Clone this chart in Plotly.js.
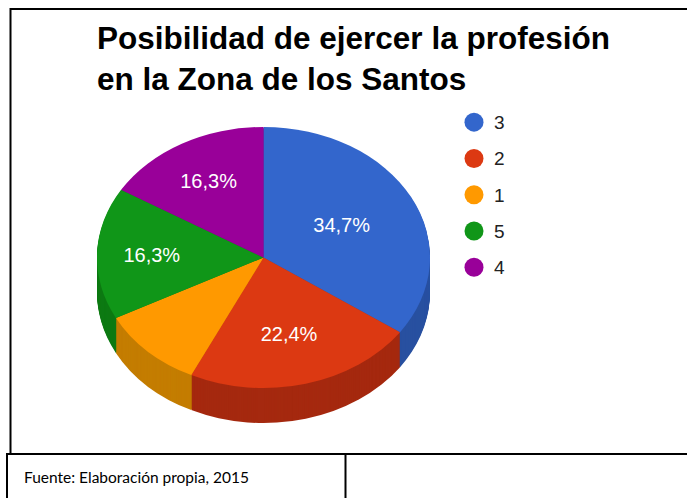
<!DOCTYPE html>
<html>
<head>
<meta charset="utf-8">
<script src="https://cdn.plot.ly/plotly-3.0.1.min.js"></script>
<style>
  html, body { margin: 0; padding: 0; background: #fff; }
  #chart { width: 687px; height: 498px; }
</style>
</head>
<body>
<div id="chart"></div>
<script>
// ---- data ----
const categories = ['3', '2', '1', '5', '4'];
const counts = [17, 11, 5, 8, 8];
const topColors = ['#3366cc', '#dc3912', '#ff9900', '#109618', '#990099'];
const sideColors = ['#2850a0', '#a5290f', '#c47d00', '#0d7a13', '#730073'];
const sliceLabels = ['%{percent:.1%}', '%{percent:.1%}', '', '%{percent:.1%}', '%{percent:.1%}'];
const chartTitle = 'Posibilidad de ejercer la profesión<br>en la Zona de los Santos';
const sourceText = 'Fuente: Elaboración propia, 2015';

// ---- geometry of the (flattened) pie ----
const W = 687, H = 498;
const CX = 263.5, CY = 257.5, R = 166.5;
const SQUISH = 0.784, DEPTH = 35;

const dom = {
  x: [(CX - R) / W, (CX + R) / W],
  y: [(H - CY - R) / H, (H - CY + R) / H]
};

const sideTrace = {
  type: 'pie', labels: categories, values: counts, sort: false,
  direction: 'clockwise', rotation: 0, domain: dom,
  marker: { colors: sideColors, line: { width: 0 } },
  textinfo: 'none', showlegend: false, hoverinfo: 'none'
};
const topTrace = {
  type: 'pie', labels: categories, values: counts, sort: false,
  direction: 'clockwise', rotation: 0, domain: dom,
  marker: { colors: topColors, line: { width: 0 } },
  texttemplate: sliceLabels, textposition: 'inside',
  insidetextorientation: 'horizontal',
  insidetextfont: { family: 'Liberation Sans, Arial, sans-serif', size: 20, color: '#ffffff' },
  hoverinfo: 'none'
};

const layout = {
  width: W, height: H,
  margin: { l: 0, r: 0, t: 0, b: 0 },
  paper_bgcolor: '#ffffff',
  separators: ',.',
  title: {
    text: chartTitle,
    x: 97 / W, xanchor: 'left', xref: 'container',
    y: 1 - 49 / H, yanchor: 'top', yref: 'container',
    font: { family: 'Liberation Sans, Arial, sans-serif', size: 31.5, color: '#000000', weight: 'bold' }
  },
  showlegend: true,
  legend: {
    x: (474 - 20) / W, xanchor: 'left',
    y: 1 - 99 / H, yanchor: 'top',
    bgcolor: 'rgba(0,0,0,0)',
    font: { family: 'Liberation Sans, Arial, sans-serif', size: 25.6, color: '#222222' },
    traceorder: 'normal'
  },
  shapes: [
    { type: 'rect', xref: 'paper', yref: 'paper',
      x0: 10.5 / W, x1: 1.05, y0: (H - 454) / H, y1: (H - 9) / H,
      line: { color: '#000000', width: 2 }, fillcolor: 'rgba(0,0,0,0)', layer: 'below' },
    { type: 'rect', xref: 'paper', yref: 'paper',
      x0: 7 / W, x1: 345.5 / W, y0: -0.05, y1: (H - 454) / H,
      line: { color: '#000000', width: 2 }, fillcolor: '#ffffff', layer: 'below' }
  ],
  annotations: [
    { text: sourceText, xref: 'paper', yref: 'paper',
      x: 22 / W, xanchor: 'left', y: (H - 477) / H, yanchor: 'middle',
      showarrow: false,
      font: { family: 'Lato, Carlito, Calibri, sans-serif', size: 15.5, color: '#000000' } }
  ]
};

Plotly.newPlot('chart', [sideTrace, topTrace], layout, { staticPlot: true }).then(gd => {
  const groups = gd.querySelectorAll('.pielayer g.trace');
  const side = groups[0], top = groups[1];
  const NS = 'http://www.w3.org/2000/svg';

  function localCenterY(g) {
    let y0 = Infinity, y1 = -Infinity;
    g.querySelectorAll('path.surface').forEach(p => {
      const b = p.getBBox();
      y0 = Math.min(y0, b.y); y1 = Math.max(y1, b.y + b.height);
    });
    return (y0 + y1) / 2;
  }
  function screenCenterY(g) {
    let y0 = Infinity, y1 = -Infinity;
    g.querySelectorAll('path.surface').forEach(p => {
      const b = p.getBoundingClientRect();
      y0 = Math.min(y0, b.top); y1 = Math.max(y1, b.bottom);
    });
    return (y0 + y1) / 2;
  }
  const tf = (cy, off) => `translate(0,${cy * (1 - SQUISH) + off}) scale(1,${SQUISH})`;

  // side walls: stacked flattened copies of the darker pie
  const cyS = localCenterY(side);
  const sidePaths = Array.from(side.querySelectorAll('path.surface'));
  const stack = document.createElementNS(NS, 'g');
  for (let off = DEPTH; off >= 1; off -= 1) {
    sidePaths.forEach(p => {
      const c = p.cloneNode(true);
      c.setAttribute('transform', tf(cyS, off));
      stack.appendChild(c);
    });
  }
  sidePaths.forEach(p => { p.style.display = 'none'; });
  side.insertBefore(stack, side.firstChild);

  // top face
  const scy = screenCenterY(top);
  const cyT = localCenterY(top);
  top.querySelectorAll('g.slicetext').forEach(t => {
    const b = t.getBoundingClientRect();
    if (!b.height) return;
    const ty = (b.top + b.bottom) / 2;
    const d = (ty - scy) * (SQUISH - 1);
    const prev = t.getAttribute('transform') || '';
    t.setAttribute('transform', `translate(0,${d}) ${prev}`);
  });
  top.querySelectorAll('path.surface').forEach(p => p.setAttribute('transform', tf(cyT, 0)));

  // legend: round markers, smaller text
  gd.querySelectorAll('.legend .legendpoints path').forEach(p => {
    p.setAttribute('d', 'M9.5,0A9.5,9.5 0 1,1 0,-9.5A9.5,9.5 0 0,1 9.5,0Z');
    p.style.strokeWidth = '0';
  });
  gd.querySelectorAll('.legend text.legendtext').forEach(t => {
    t.style.fontSize = '19px';
    t.setAttribute('y', '6.8');
  });
});
</script>
</body>
</html>
